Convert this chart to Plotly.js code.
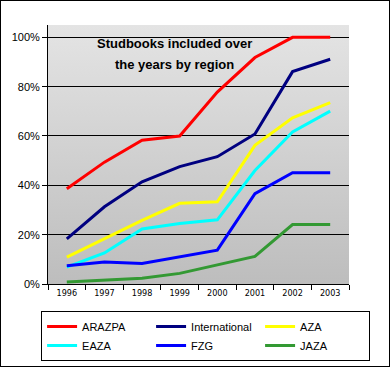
<!DOCTYPE html>
<html>
<head>
<meta charset="utf-8">
<script src="https://cdn.plot.ly/plotly-3.0.1.min.js"></script>
<style>
html,body{margin:0;padding:0;background:#fff;}
#wrap{position:relative;width:390px;height:367px;}
#chart{width:390px;height:367px;}
#frame{position:absolute;left:0;top:0;width:390px;height:367px;box-sizing:border-box;border:1px solid #000;pointer-events:none;}
</style>
</head>
<body>
<div id="wrap"><div id="chart"></div><div id="frame"></div></div>
<script>
const years = ['1996','1997','1998','1999','2000','2001','2002','2003'];
const seriesNames = ['ARAZPA','International','AZA','EAZA','FZG','JAZA'];
const arazpa        = [38.6, 49.4, 58.3, 60.0, 77.8, 91.8, 100, 100];
const international = [18.3, 31.3, 41.4, 47.6, 51.6, 60.8, 86.1, 91.1];
const aza           = [10.9, 18.4, 25.8, 32.7, 33.3, 56.2, 67.4, 73.5];
const eaza          = [6.8, 12.6, 22.3, 24.5, 26.0, 46.0, 61.6, 70.1];
const fzg           = [7.4, 8.9, 8.3, 10.9, 13.7, 36.6, 45.1, 45.1];
const jaza          = [0.8, 1.6, 2.3, 4.3, 7.9, 11.2, 24.1, 24.1];
const colors = ['#ff0000','#000080','#ffff00','#00ffff','#0000ff','#339933'];
const values = [arazpa, international, aza, eaza, fzg, jaza];

const traces = values.map((v,i)=>({
  type:'scatter', mode:'lines', x:years, y:v, name:seriesNames[i],
  line:{color:colors[i], width:3}, hoverinfo:'skip'
}));

const grad = 'data:image/svg+xml;charset=utf-8,' + encodeURIComponent(
 '<svg xmlns="http://www.w3.org/2000/svg" width="100" height="100" preserveAspectRatio="none">' +
 '<defs><linearGradient id="g" x1="0" y1="0" x2="0" y2="1">' +
 '<stop offset="0" stop-color="#e4e4e4"/><stop offset="1" stop-color="#bdbdbd"/>' +
 '</linearGradient></defs><rect width="100" height="100" fill="url(#g)"/></svg>');

const layout = {
  width:390, height:367,
  margin:{l:48, r:41, t:0, b:83},
  paper_bgcolor:'#ffffff', plot_bgcolor:'rgba(0,0,0,0)',
  font:{family:'Liberation Sans, Arial, sans-serif', color:'#000'},
  showlegend:true,
  xaxis:{type:'category', range:[-0.5,7.5], tickson:'boundaries', ticks:'outside', ticklen:5,
         tickcolor:'#000', showline:true, linecolor:'#000', linewidth:1, showgrid:false,
         tickfont:{size:9, family:'DejaVu Sans Condensed, Liberation Sans, sans-serif'}, fixedrange:true},
  yaxis:{domain:[0,0.912], range:[0,105], tickvals:[0,20,40,60,80,100], ticktext:['0%','20%','40%','60%','80%','100%'],
         ticks:'outside', ticklen:5, tickcolor:'#000', showline:true, linecolor:'#000', linewidth:1,
         showgrid:true, gridcolor:'#000', gridwidth:1, zeroline:false, tickfont:{size:11}, fixedrange:true},
  images:[{source:grad, xref:'x domain', yref:'y domain', x:0, y:1, sizex:1, sizey:1,
           xanchor:'left', yanchor:'top', sizing:'stretch', layer:'below'}],
  annotations:[
    {text:'Studbooks included over', xref:'x domain', yref:'y domain', x:0.419, y:0.929,
     xanchor:'center', yanchor:'middle', showarrow:false,
     font:{size:13, family:'Liberation Sans, Arial, sans-serif', weight:'bold'}},
    {text:'the years by region', xref:'x domain', yref:'y domain', x:0.419, y:0.846,
     xanchor:'center', yanchor:'middle', showarrow:false,
     font:{size:13, family:'Liberation Sans, Arial, sans-serif', weight:'bold'}}
  ],
  legend:{orientation:'h', x:-0.023, y:-0.095, xanchor:'left', yanchor:'top',
          bordercolor:'#000', borderwidth:1, bgcolor:'#fff', entrywidth:64, itemwidth:30,
          font:{size:11}, traceorder:'normal'}
};

Plotly.newPlot('chart', traces, layout, {displayModeBar:false, staticPlot:true});
</script>
</body>
</html>
